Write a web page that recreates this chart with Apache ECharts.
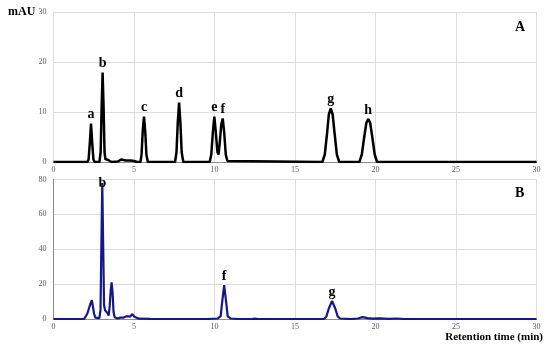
<!DOCTYPE html>
<html>
<head>
<meta charset="utf-8">
<script src="https://cdn.jsdelivr.net/npm/echarts@6/dist/echarts.min.js"></script>
<style>html,body{margin:0;padding:0;background:#fff}#c{width:550px;height:350px}</style>
</head>
<body>
<div id="c"></div>
<script>
// Panel A (black trace): [retention time (min), mAU]
var traceA = [
  [0,0],[2.1,0],[2.18,0.5],[2.26,4],[2.33,7.7],[2.4,4],[2.48,0.5],[2.56,0],
  [2.85,0],[2.93,2],[2.99,11],[3.05,17.9],[3.11,11],[3.17,2],[3.22,0.6],[3.3,0.5],[3.4,0.4],[3.5,0.1],[3.6,0],
  [4.0,0.1],[4.1,0.4],[4.2,0.5],[4.3,0.3],[4.5,0.3],[4.8,0.3],[5.0,0.2],[5.2,0],
  [5.4,0],[5.47,1.5],[5.54,6],[5.62,9.1],[5.7,6],[5.77,1.5],[5.86,0],
  [7.55,0],[7.64,2],[7.72,8],[7.8,11.9],[7.88,8],[7.96,2],[8.06,0],
  [9.7,0],[9.8,1.5],[9.9,6],[9.99,9.1],[10.08,6],[10.18,2],[10.25,1.5],[10.33,4],[10.42,7.5],[10.51,8.7],[10.6,6],[10.7,1.5],[10.8,0.2],[10.9,0],
  [16.7,0],[16.85,1.5],[17.0,6],[17.1,9.5],[17.22,10.7],[17.34,9.5],[17.45,6],[17.6,1.5],[17.75,0],
  [19.0,0],[19.15,1.5],[19.3,5],[19.43,7.8],[19.55,8.6],[19.67,7.8],[19.8,5],[19.95,1.5],[20.1,0],
  [30,0]
];
// Panel B (navy trace)
var traceB = [
  [0,0],[1.9,0],[2.0,0.5],[2.1,3],[2.2,6],[2.3,9],[2.38,10.8],[2.45,7],[2.52,3],[2.6,0.8],[2.7,0.3],
  [2.85,0.5],[2.92,5],[2.97,40],[3.03,78],[3.09,40],[3.14,8],[3.2,5],[3.28,4.5],[3.35,3.5],[3.42,2],
  [3.48,6],[3.55,16],[3.61,21],[3.67,15],[3.73,4],[3.8,1],[3.9,0.3],[4.0,0.3],[4.15,0.8],[4.25,1.5],
  [4.35,0.8],[4.45,1.2],[4.55,1.6],[4.65,0.9],[4.75,1.3],[4.9,2.8],[5.0,1.5],[5.1,0.4],[5.3,0.2],[6,0.1],[7,0],
  [9.5,0],[10.2,0.3],[10.38,1.5],[10.48,10],[10.6,19.4],[10.72,10],[10.82,1.5],[11.0,0.3],[11.5,0],[12.3,0],[12.5,0.2],[12.7,0],
  [16.8,0],[16.95,1.5],[17.1,6],[17.3,10.3],[17.5,6],[17.65,1.5],[17.8,0.3],[18.5,0],
  [18.9,0.3],[19.2,1.1],[19.5,0.5],[19.8,0.2],[20.3,0.4],[20.8,0.1],[21.3,0.3],[21.8,0],[30,0]
];
// Peak labels: [x, y, letter]
var peaksA = [[2.33,7.7,'a'],[3.05,17.9,'b'],[5.62,9.1,'c'],[7.8,11.9,'d'],[9.99,9.1,'e'],[10.51,8.7,'f'],[17.22,10.7,'g'],[19.55,8.6,'h']];
var peaksB = [[3.03,78,'b'],[10.6,19.4,'f'],[17.3,10.3,'g']];
var xTicks = [0,5,10,15,20,25,30];
var yTicksA = [0,10,20,30];
var yTicksB = [0,20,40,60,80];

var serif = 'Liberation Serif';
var chart = echarts.init(document.getElementById('c'), null, {renderer:'canvas'});
function xAxis(idx){
  return {type:'value', gridIndex:idx, min:xTicks[0], max:xTicks[xTicks.length-1], interval:5,
    axisLine:{show:true, lineStyle:{color:'#8c8c8c', width:1}}, axisTick:{show:false},
    axisLabel:{fontFamily:serif, fontSize:8, color:'#595959', margin:4},
    splitLine:{show:true, lineStyle:{color:'#dcdcdc', width:1}}};
}
function yAxis(idx, ticks, axisColor){
  return {type:'value', gridIndex:idx, min:ticks[0], max:ticks[ticks.length-1], interval:ticks[1]-ticks[0],
    axisLine:{show:true, lineStyle:{color:axisColor, width:1}}, axisTick:{show:false},
    axisLabel:{fontFamily:serif, fontSize:8, color:'#595959', margin:7},
    splitLine:{show:true, lineStyle:{color:'#dcdcdc', width:1}}};
}
function labelSeries(peaks, idx, specialInside){
  return {type:'scatter', xAxisIndex:idx, yAxisIndex:idx, symbolSize:0, silent:true, z:5,
    itemStyle:{opacity:1},
    data: peaks.map(function(p){
      var item = {value:[p[0],p[1]], name:p[2]};
      if (specialInside && p[2]===specialInside) item.label = {position:'inside'};
      return item;
    }),
    label:{show:true, position:'top', distance:2, formatter:'{b}', fontFamily:serif, fontWeight:'bold', fontSize:14, color:'#000', textBorderWidth:0}};
}
chart.setOption({
  animation:false,
  grid:[
    {left:53.5, right:13.5, top:12, height:150},
    {left:53.5, right:13.5, top:179.5, height:139.5}
  ],
  xAxis:[xAxis(0), xAxis(1)],
  yAxis:[yAxis(0, yTicksA, '#dcdcdc'), yAxis(1, yTicksB, '#8c8c8c')],
  series:[
    {type:'line', xAxisIndex:0, yAxisIndex:0, data:traceA, showSymbol:false, symbol:'none', lineStyle:{color:'#000', width:2.5}, z:3},
    {type:'line', xAxisIndex:1, yAxisIndex:1, data:traceB, showSymbol:false, symbol:'none', lineStyle:{color:'#16168c', width:2.2}, z:3},
    labelSeries(peaksA, 0, null),
    labelSeries(peaksB, 1, 'b')
  ],
  graphic:[
    {type:'text', left:8, top:6, style:{text:'mAU', font:'bold 12px "Liberation Serif"', fill:'#000'}},
    {type:'text', left:515, top:20, style:{text:'A', font:'bold 14px "Liberation Serif"', fill:'#000'}},
    {type:'text', left:515, top:186, style:{text:'B', font:'bold 14px "Liberation Serif"', fill:'#000'}},
    {type:'text', right:7, top:332, style:{text:'Retention time (min)', font:'bold 11px "Liberation Serif"', fill:'#000'}}
  ]
});
</script>
</body>
</html>
